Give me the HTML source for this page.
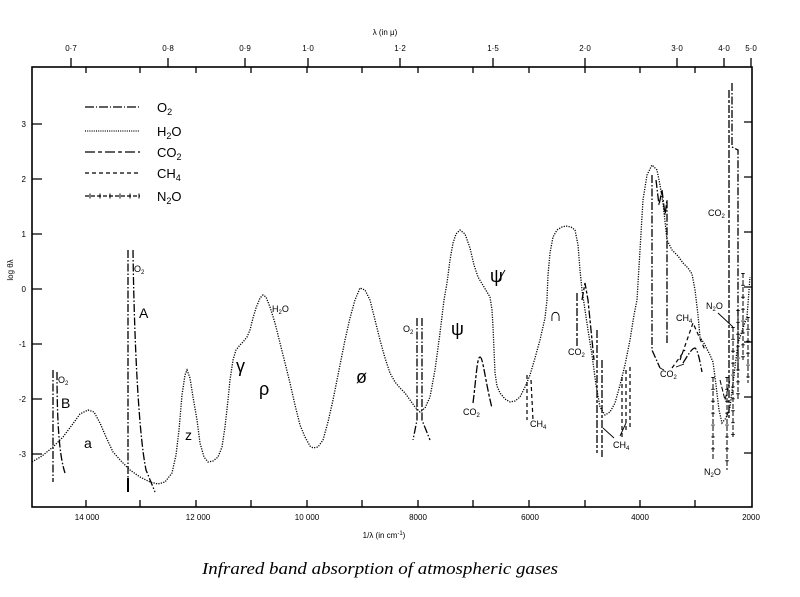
<!DOCTYPE html>
<html><head><meta charset="utf-8"><style>
html,body{margin:0;padding:0;background:#fff;}
svg{display:block;}
text{font-family:"Liberation Sans",sans-serif;fill:#000;}
</style></head><body>
<svg width="800" height="597" viewBox="0 0 800 597" xmlns="http://www.w3.org/2000/svg">
<rect width="800" height="597" fill="#fff"/>
<!-- frame -->
<rect x="32" y="67" width="720" height="440" fill="none" stroke="#000" stroke-width="1.6"/>
<g stroke="#000" stroke-width="1.3" fill="none">
<path d="M32 124h10M32 179h10M32 234h10M32 289h10M32 344h10M32 399h10M32 454h10"/>
<path d="M752 122h-8M752 177h-8M752 232h-8M752 287h-8M752 342h-8M752 397h-8M752 453h-8"/>
<path d="M86 67v6M140 67v6M196 67v6M251 67v6M307 67v6M362 67v6M418 67v6M473 67v6M529 67v6M585 67v6M640 67v6M695 67v6"/>
<path d="M71 67v-9M168 67v-9M245 67v-9M308 67v-9M400 67v-9M493 67v-9M585 67v-9M677 67v-9M724 67v-9M751 67v-9"/>
<path d="M86 507v-7M140 507v-7M196 507v-7M251 507v-7M307 507v-7M362 507v-7M418 507v-7M473 507v-7M529 507v-7M585 507v-7M640 507v-7M695 507v-7"/>
</g>
<g font-size="8" text-anchor="middle">
<text x="71" y="51">0·7</text><text x="168" y="51">0·8</text><text x="245" y="51">0·9</text><text x="308" y="51">1·0</text>
<text x="400" y="51">1·2</text><text x="493" y="51">1·5</text><text x="585" y="51">2·0</text><text x="677" y="51">3·0</text>
<text x="724" y="51">4·0</text><text x="751" y="51">5·0</text>
<text x="385" y="35">λ  (in μ)</text>
<text x="87" y="520">14 000</text><text x="198" y="520">12 000</text><text x="307" y="520">10 000</text>
<text x="418" y="520">8000</text><text x="530" y="520">6000</text><text x="640" y="520">4000</text><text x="751" y="520">2000</text>
<text x="384" y="538">1/λ   (in cm<tspan font-size="6" dy="-3">-1</tspan><tspan dy="3">)</tspan></text>
</g>
<g font-size="8" text-anchor="end">
<text x="26" y="127">3</text><text x="26" y="182">2</text><text x="26" y="237">1</text><text x="26" y="292">0</text>
<text x="26" y="347">-1</text><text x="26" y="402">-2</text><text x="26" y="457">-3</text>
</g>
<text x="0" y="0" font-size="8" text-anchor="middle" transform="translate(13,270) rotate(-90)">log θλ</text>
<text x="380" y="574" font-style="italic" font-size="17" text-anchor="middle" textLength="356" lengthAdjust="spacingAndGlyphs" style="font-family:'Liberation Serif',serif">Infrared band absorption of atmospheric gases</text>

<!-- legend -->
<g fill="none" stroke="#000" stroke-width="1.2">
<path d="M85 107h55" stroke-dasharray="9 2 1 2"/>
<path d="M85 131h55" stroke-dasharray="1 1.2"/>
<path d="M85 152h55" stroke-dasharray="10 3 4 3"/>
<path d="M85 173h55" stroke-dasharray="4 3"/>
<path d="M85 196h55" stroke-dasharray="4 2"/>
<path d="M90 193.5v5M100 193.5v5M110 193.5v5M120 193.5v5M130 193.5v5M139 193.5v5" stroke-width="1"/>
</g>
<g font-size="13">
<text x="157" y="112">O<tspan font-size="9" dy="3">2</tspan></text>
<text x="157" y="136">H<tspan font-size="9" dy="3">2</tspan><tspan dy="-3">O</tspan></text>
<text x="157" y="157">CO<tspan font-size="9" dy="3">2</tspan></text>
<text x="157" y="178">CH<tspan font-size="9" dy="3">4</tspan></text>
<text x="157" y="201">N<tspan font-size="9" dy="3">2</tspan><tspan dy="-3">O</tspan></text>
</g>

<!-- H2O dotted curve -->
<polyline fill="none" stroke="#000" stroke-width="1.3" stroke-dasharray="1.2 1.3" points="32,462 42,456 53,447 63,437 72,425 80,414 88,410 94,412 100,423 106,437 113,452 122,462 130,470 140,477 150,482 158,484 165,482 172,473 176,455 179,430 182,395 185,375 187,370 190,378 193,397 197,420 200,443 204,457 208,462 213,461 218,457 222,447 225,427 228,400 230,380 233,360 236,350 240,345 243,342 247,337 250,330 253,318 256,308 260,298 263,295 266,297 270,307 275,323 280,343 285,363 290,383 295,405 300,425 305,437 310,446 313,448 318,447 323,440 328,422 333,400 339,370 345,340 350,318 355,300 360,288 365,290 370,300 375,320 380,340 385,358 390,373 395,382 400,388 405,393 410,400 415,407 420,412 425,408 430,397 435,370 440,333 444,300 447,283 450,260 453,243 456,234 460,230 465,234 470,248 474,265 478,277 484,287 490,297 492,310 493,327 494,350 495,373 497,386 500,393 505,399 510,402 515,401 520,397 525,387 530,375 535,358 540,340 545,318 547,300 548,275 550,253 553,237 557,230 562,227 566,226 571,227 575,230 578,245 580,270 582,290 585,310 588,330 592,355 596,385 600,407 605,415 610,412 615,403 620,385 625,365 630,340 634,315 637,300 640,250 643,200 647,175 652,165 657,170 660,185 663,203 667,240 672,250 678,256 683,263 688,268 692,274 695,290 698,315 700,337 705,345 710,355 713,362 716,385 719,410 722,423 726,418 730,407 734,375 738,343 743,328 747,317 750,277"/>

<!-- O2 dash-dot -->
<g fill="none" stroke="#000" stroke-width="1.3" stroke-dasharray="8 2 1.5 2">
<path d="M53 370V482"/>
<path d="M57 372C57 420 59 455 65 473"/>
<path d="M128 250V492"/>
<path d="M133 250C134 330 138 430 146 470L155 492"/>
<path d="M417 318V420L413 440"/>
<path d="M422 318V420L430 440"/>
<path d="M652 175V350L660 368"/>
<path d="M656 180L659 205L662 190L665 215L667 200V343"/>
<path d="M732 83V147L738 150V377"/>
<path d="M683 363C688 355 692 348 695 348C698 350 700 362 702 372"/>
</g>
<path d="M128 478V492" stroke="#000" stroke-width="2"/>

<!-- CO2 long-short dash -->
<g fill="none" stroke="#000" stroke-width="1.3" stroke-dasharray="8 2 3 2">
<path d="M473 403C476 380 477 357 480 357C483 357 485 380 492 408"/>
<path d="M577 293V347"/>
<path d="M582 300L585 283L588 300L592 340L594 360"/>
<path d="M597 330V453"/>
<path d="M602 360V457"/>
<path d="M729 90V420"/>
</g>

<!-- CH4 dashed -->
<g fill="none" stroke="#000" stroke-width="1.2" stroke-dasharray="4 3">
<path d="M527 375V420"/>
<path d="M531 380L533 420"/>
<path d="M622 377V437"/>
<path d="M626 370V430"/>
<path d="M630 367V430"/>
<path d="M680 360L693 323L705 350"/>
<path d="M672 368L685 350"/>
</g>

<!-- N2O -->
<g fill="none" stroke="#000" stroke-width="1">
<g stroke-dasharray="5 2">
<path d="M713 377V460"/>
<path d="M727 377V470"/>
<path d="M733 327V437"/>
<path d="M738 310V400"/>
<path d="M743 273V360"/>
<path d="M748 317V383"/>
<path d="M720 380L725 400L730 380"/>
</g>
<g stroke-width="3.5" stroke-dasharray="0.9 11">
<path d="M713 377V460"/>
<path d="M727 377V470"/>
<path d="M733 327V437"/>
<path d="M738 310V400"/>
<path d="M743 273V360"/>
<path d="M748 317V383"/>
</g>
</g>

<!-- leaders -->
<g fill="none" stroke="#000" stroke-width="0.9">
<path d="M718 313L733 327"/>
<path d="M614 438L603 428"/>
<path d="M620 436L626 423"/>
<path d="M676 367L684 364"/>
<path d="M660 368L664 370"/>
<path d="M498 282L505 270"/>
</g>

<!-- in-plot labels -->
<g font-size="9">
<text x="58" y="383">O<tspan font-size="6" dy="2">2</tspan></text>
<text x="134" y="272">O<tspan font-size="6" dy="2">2</tspan></text>
<text x="272" y="312">H<tspan font-size="6" dy="2">2</tspan><tspan dy="-2">O</tspan></text>
<text x="403" y="332">O<tspan font-size="6" dy="2">2</tspan></text>
<text x="463" y="415">CO<tspan font-size="6" dy="2">2</tspan></text>
<text x="530" y="427">CH<tspan font-size="6" dy="2">4</tspan></text>
<text x="568" y="355">CO<tspan font-size="6" dy="2">2</tspan></text>
<text x="613" y="448">CH<tspan font-size="6" dy="2">4</tspan></text>
<text x="676" y="321">CH<tspan font-size="6" dy="2">4</tspan></text>
<text x="660" y="377">CO<tspan font-size="6" dy="2">2</tspan></text>
<text x="706" y="309">N<tspan font-size="6" dy="2">2</tspan><tspan dy="-2">O</tspan></text>
<text x="704" y="475">N<tspan font-size="6" dy="2">2</tspan><tspan dy="-2">O</tspan></text>
<text x="708" y="216">CO<tspan font-size="6" dy="2">2</tspan></text>
</g>
<g font-size="14">
<text x="61" y="408">B</text>
<text x="139" y="318">A</text>
<text x="84" y="448">a</text>
<text x="185" y="440">z</text>
</g>
<g font-size="18" style="font-family:'Liberation Serif',serif">
<text x="236" y="372">γ</text>
<text x="259" y="395">ρ</text>
<text x="356" y="383">ø</text>
<text x="451" y="335">ψ</text>
<text x="490" y="282">ψ</text>
<text x="549" y="321">∩</text>
</g>
</svg>
</body></html>
